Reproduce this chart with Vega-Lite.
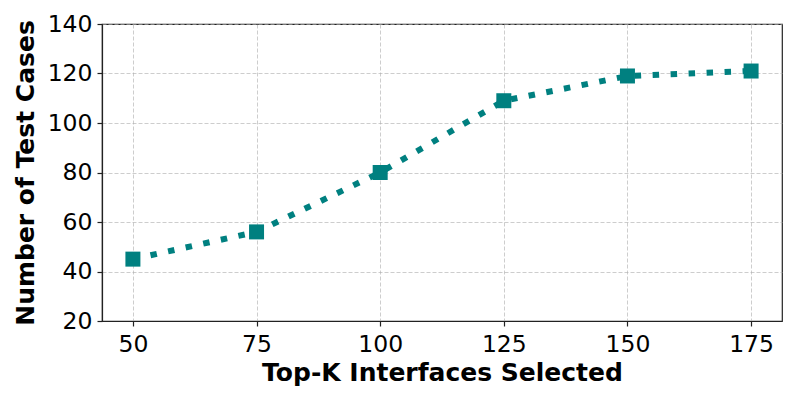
{
  "$schema": "https://vega.github.io/schema/vega-lite/v6.json",
  "autosize": {"type": "none"},
  "width": 680,
  "height": 297,
  "padding": {"left": 102, "top": 24, "right": 15, "bottom": 78},
  "background": "white",
  "config": {
    "font": "DejaVu Sans",
    "view": {"stroke": "#222", "strokeWidth": 1.2},
    "axis": {
      "labelFont": "DejaVu Sans",
      "labelFontSize": 23.5,
      "labelColor": "#000",
      "titleFont": "DejaVu Sans",
      "titleFontSize": 25,
      "titleFontWeight": "bold",
      "titleColor": "#000",
      "domainColor": "#222",
      "domainWidth": 1.2,
      "tickColor": "#222",
      "tickSize": 5,
      "tickWidth": 1.2,
      "gridColor": "#b0b0b0",
      "gridOpacity": 0.7,
      "gridDash": [4, 2],
      "gridWidth": 0.9
    }
  },
  "data": {
    "values": [
      {"k": 50, "cases": 45},
      {"k": 75, "cases": 56},
      {"k": 100, "cases": 80},
      {"k": 125, "cases": 109},
      {"k": 150, "cases": 119},
      {"k": 175, "cases": 121}
    ]
  },
  "encoding": {
    "x": {
      "field": "k",
      "type": "quantitative",
      "title": "Top-K Interfaces Selected",
      "scale": {"domain": [43.75, 181.25], "nice": false, "zero": false},
      "axis": {"values": [50, 75, 100, 125, 150, 175], "labelPadding": 6, "titlePadding": 5}
    },
    "y": {
      "field": "cases",
      "type": "quantitative",
      "title": "Number of Test Cases",
      "scale": {"domain": [20, 140], "nice": false, "zero": false},
      "axis": {"values": [20, 40, 60, 80, 100, 120, 140], "labelPadding": 5, "titlePadding": 9}
    }
  },
  "layer": [
    {
      "mark": {"type": "line", "color": "#008080", "strokeWidth": 6, "strokeDash": [6.5, 11.5], "strokeCap": "butt"}
    },
    {
      "mark": {"type": "point", "shape": "square", "filled": true, "size": 225, "color": "#008080", "opacity": 1}
    }
  ]
}
